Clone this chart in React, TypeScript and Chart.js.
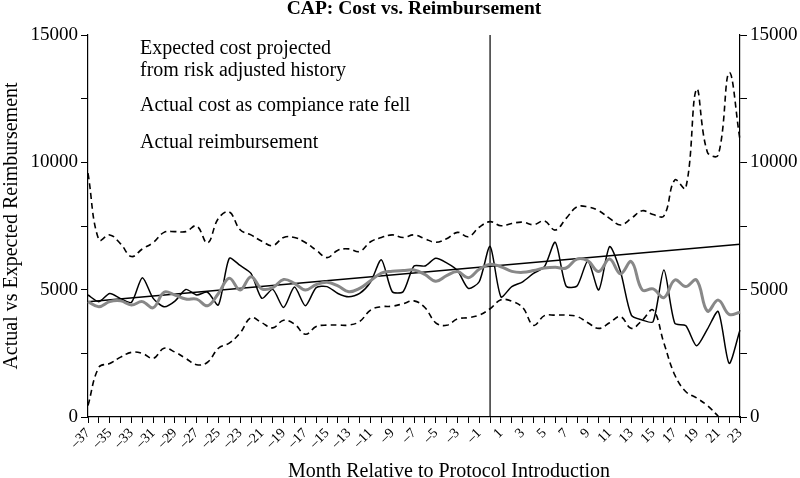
import { useEffect, useRef } from 'react';
import { Chart, registerables } from 'chart.js';

Chart.register(...registerables);

const months = [
  -37, -36, -35, -34, -33, -32, -31, -30, -29, -28,
  -27, -26, -25, -24, -23, -22, -21, -20, -19, -18,
  -17, -16, -15, -14, -13, -12, -11, -10, -9, -8,
  -7, -6, -5, -4, -3, -2, -1, 0, 1, 2,
  3, 4, 5, 6, 7, 8, 9, 10, 11, 12,
  13, 14, 15, 16, 17, 18, 19, 20, 21, 22,
  23,
];

const upperBound = [
  9580, 6950, 7150, 6800, 6300, 6600, 6850, 7250, 7280, 7280,
  7500, 6830, 7800, 8050, 7350, 7150, 6900, 6730, 7050, 7050,
  6850, 6550, 6260, 6550, 6600, 6500, 6880, 7050, 7150, 7050,
  7150, 7000, 6860, 7000, 7250, 7080, 7450, 7670, 7510, 7600,
  7650, 7550, 7700, 7340, 7800, 8250, 8250, 8100, 7800, 7540,
  7800, 8100, 7950, 7900, 9310, 8980, 12870, 10400, 10290, 13520,
  10880,
];

const lowerBound = [
  450, 1950, 2100, 2350, 2540, 2500, 2300, 2700, 2550, 2300,
  2050, 2150, 2700, 2900, 3300, 3900, 3700, 3500, 3800, 3650,
  3250, 3550, 3610, 3610, 3610, 3750, 4200, 4330, 4350, 4450,
  4560, 4300, 3700, 3600, 3850, 3900, 4000, 4250, 4600, 4550,
  4300, 3600, 3980, 4000, 4000, 3950, 3700, 3480, 3700, 3940,
  3480, 3800, 4200, 2900, 1650, 1000, 750, 450, 30,
];

const actualCost = [
  4790, 4530, 4850, 4650, 4500, 5470, 4660, 4330, 4550, 5010,
  4790, 4900, 4400, 6230, 5950, 5640, 4660, 5010, 4300, 5100,
  4370, 5080, 5120, 4850, 4720, 4850, 5300, 6170, 4920, 4920,
  5930, 5930, 6230, 6050, 5750, 5050, 5310, 6700, 4720, 5120,
  5310, 5640, 5900, 6860, 5140, 5140, 6130, 4990, 6690, 5710,
  4000, 3810, 3740, 5770, 3680, 3590, 2800, 3450, 4140, 2110,
  3420,
];

const reimbursement = [
  4530, 4330, 4530, 4560, 4400, 4530, 4290, 4900, 4790, 4630,
  4630, 4370, 4850, 5450, 4990, 5510, 5030, 5080, 5400, 5250,
  4990, 5200, 5290, 5150, 4920, 5050, 5350, 5650, 5720, 5750,
  5770, 5600, 5330, 5550, 5710, 5470, 5800, 6000, 5900, 5720,
  5680, 5750, 5850, 5880, 5850, 6200, 6130, 5710, 6200, 5620,
  6100, 4990, 5030, 4690, 5380, 5120, 5380, 4160, 4590, 4030,
  4110,
];

const expectedCost = [
  { month: -37, value: 4530 },
  { month: 23, value: 6780 },
];

const interventionMonth = 0;

const titleText = 'CAP: Cost vs. Reimbursement';
const xTitle = 'Month Relative to Protocol Introduction';
const yTitle = 'Actual vs Expected Reimbursement';
const noteLines = [
  'Expected cost projected',
  'from risk adjusted history',
  'Actual cost as compiance rate fell',
  'Actual reimbursement',
];

const FONT = "'Liberation Serif', 'DejaVu Serif', serif";

const fmtMonth = (m: number) => (m < 0 ? '\u2013' + Math.abs(m) : String(m));

export default function App() {
  const ref = useRef<HTMLCanvasElement | null>(null);

  useEffect(() => {
    document.body.style.margin = '0';
    if (!ref.current) return;

    const overlay = {
      id: 'overlay',
      beforeDatasetsDraw(chart: any) {
        const { ctx, chartArea, scales } = chart;
        const x0 = scales.x.getPixelForValue(months.indexOf(interventionMonth));
        ctx.save();
        ctx.strokeStyle = '#000';
        ctx.lineWidth = 1.2;
        ctx.beginPath();
        ctx.moveTo(x0, chartArea.top);
        ctx.lineTo(x0, chartArea.bottom);
        ctx.stroke();
        ctx.restore();
      },
      afterDraw(chart: any) {
        const { ctx, chartArea } = chart;
        ctx.save();
        ctx.fillStyle = '#000';
        // title
        ctx.font = `bold 19.5px ${FONT}`;
        ctx.textAlign = 'center';
        ctx.textBaseline = 'alphabetic';
        ctx.fillText(titleText, (chartArea.left + chartArea.right) / 2, 14);
        // notes
        ctx.font = `20px ${FONT}`;
        ctx.textAlign = 'left';
        const noteY = [54, 76, 111, 148];
        noteLines.forEach((t, i) => ctx.fillText(t, 140, noteY[i]));
        // x title
        ctx.textAlign = 'center';
        ctx.fillText(xTitle, 449, 477);
        // y title
        ctx.translate(17, (chartArea.top + chartArea.bottom) / 2);
        ctx.rotate(-Math.PI / 2);
        ctx.fillText(yTitle, 0, 0);
        ctx.restore();
      },
    };

    const axisGrid = {
      display: true,
      drawOnChartArea: false,
      drawTicks: true,
      tickLength: 7,
      color: '#000',
      lineWidth: 1,
    };

    const chart = new Chart(ref.current, {
      type: 'line',
      data: {
        labels: months.map(String),
        datasets: [
          {
            label: 'Upper',
            data: upperBound,
            borderColor: '#000',
            borderWidth: 1.6,
            borderDash: [6, 4],
            pointRadius: 0,
            tension: 0.4,
            fill: false,
          },
          {
            label: 'Lower',
            data: lowerBound,
            borderColor: '#000',
            borderWidth: 1.6,
            borderDash: [6, 4],
            pointRadius: 0,
            tension: 0.4,
            fill: false,
          },
          {
            label: 'Actual reimbursement',
            data: reimbursement,
            borderColor: '#888888',
            borderWidth: 3,
            pointRadius: 0,
            tension: 0.4,
            fill: false,
          },
          {
            label: 'Actual cost',
            data: actualCost,
            borderColor: '#000',
            borderWidth: 1.5,
            pointRadius: 0,
            tension: 0.25,
            fill: false,
          },
          {
            label: 'Expected cost',
            data: expectedCost.map((p) => ({ x: String(p.month), y: p.value })) as any,
            borderColor: '#000',
            borderWidth: 1.5,
            pointRadius: 0,
            tension: 0,
            spanGaps: true,
            fill: false,
          },
        ],
      },
      options: {
        responsive: false,
        animation: false,
        layout: { padding: { top: 35, left: 0, right: 0, bottom: 0 } },
        plugins: {
          legend: { display: false },
          title: { display: false },
          tooltip: { enabled: false },
        },
        scales: {
          x: {
            type: 'category',
            offset: false,
            grid: { ...axisGrid, tickLength: 6 },
            border: { display: true, color: '#000', width: 1.2 },
            ticks: {
              autoSkip: false,
              minRotation: 45,
              maxRotation: 45,
              padding: 2,
              color: '#000',
              font: { family: FONT, size: 14 },
              callback: (_v: any, i: number) =>
                Math.abs(months[i]) % 2 === 1 ? fmtMonth(months[i]) : '',
            },
            afterFit: (s: any) => {
              s.height = 61;
            },
          },
          y: {
            position: 'left',
            min: 0,
            max: 15000,
            grid: axisGrid,
            border: { display: true, color: '#000', width: 1.2 },
            ticks: {
              stepSize: 2500,
              padding: 3,
              color: '#000',
              font: { family: FONT, size: 19 },
              callback: (v: any) => (Number(v) % 5000 === 0 ? String(v) : ''),
            },
            afterFit: (s: any) => {
              s.width = 88;
            },
          },
          y2: {
            position: 'right',
            min: 0,
            max: 15000,
            grid: axisGrid,
            border: { display: true, color: '#000', width: 1.2 },
            ticks: {
              stepSize: 2500,
              padding: 3,
              color: '#000',
              font: { family: FONT, size: 19 },
              callback: (v: any) => (Number(v) % 5000 === 0 ? String(v) : ''),
            },
            afterFit: (s: any) => {
              s.width = 60;
            },
          },
        },
      },
      plugins: [overlay],
    });

    return () => chart.destroy();
  }, []);

  return (
    <div style={{ width: 800, height: 478, background: '#fff' }}>
      <canvas ref={ref} width={800} height={478} />
    </div>
  );
}
